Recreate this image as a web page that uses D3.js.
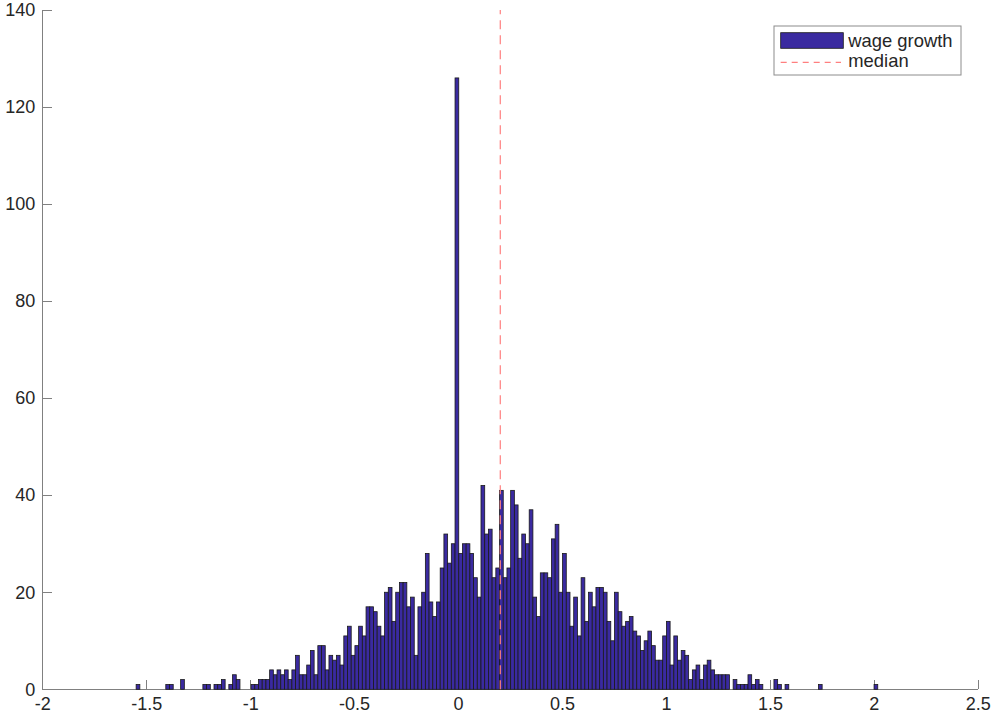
<!DOCTYPE html>
<html>
<head>
<meta charset="utf-8">
<script src="https://d3js.org/d3.v7.min.js"></script>
<style>
    body { margin: 0; background: #fff; }
    .axis text { font-family: "Liberation Sans", Arial, Helvetica, sans-serif; font-size: 18px; fill: #262626; }
    .axis path, .axis line { stroke: #808080; stroke-width: 1; shape-rendering: crispEdges; }
    .legend text { font-family: "Liberation Sans", Arial, Helvetica, sans-serif; font-size: 18.4px; fill: #262626; }
</style>
</head>
<body>
<div id="chart"></div>
<script>
// histogram: 200 equal bins between binLo and binHi
var binLo = -1.5486;
var binHi = 2.0188;
var counts = [
    1, 0, 0, 0, 0, 0, 0, 0, 1, 1,
    0, 0, 2, 0, 0, 0, 0, 0, 1, 1,
    0, 1, 1, 2, 0, 1, 3, 2, 0, 0,
    0, 1, 1, 2, 2, 2, 4, 3, 4, 3,
    4, 2, 4, 7, 3, 3, 5, 8, 3, 9,
    9, 4, 7, 6, 7, 5, 11, 13, 7, 9,
    13, 11, 17, 17, 16, 13, 11, 20, 21, 14,
    20, 22, 22, 17, 19, 7, 17, 20, 28, 18,
    15, 18, 25, 32, 26, 30, 126, 28, 30, 30,
    28, 23, 19, 42, 32, 33, 23, 25, 41, 23,
    25, 41, 38, 27, 32, 30, 37, 19, 15, 24,
    24, 23, 31, 34, 20, 28, 20, 13, 19, 11,
    23, 14, 20, 17, 21, 21, 20, 14, 10, 20,
    16, 13, 14, 15, 12, 11, 8, 10, 12, 9,
    6, 6, 11, 14, 5, 11, 6, 8, 7, 2,
    4, 5, 2, 5, 6, 4, 3, 3, 3, 3,
    0, 2, 1, 1, 1, 3, 1, 2, 1, 0,
    0, 0, 2, 1, 0, 1, 0, 0, 0, 0,
    0, 0, 0, 0, 1, 0, 0, 0, 0, 0,
    0, 0, 0, 0, 0, 0, 0, 0, 0, 1
];
var medianValue = 0.203;

var xTicks = [-2, -1.5, -1, -0.5, 0, 0.5, 1, 1.5, 2, 2.5];
var yTicks = [0, 20, 40, 60, 80, 100, 120, 140];
var legendLabels = ["wage growth", "median"];

var margin = { top: 10, right: 17.2, bottom: 28.7, left: 42.3 };
var width = 995 - margin.left - margin.right;
var height = 718 - margin.top - margin.bottom;

var svg = d3.select("#chart").append("svg")
    .attr("width", 995)
    .attr("height", 718)
    .append("g")
    .attr("transform", "translate(" + margin.left + "," + margin.top + ")");

var x = d3.scaleLinear().domain([-2, 2.5]).range([0, width]);
var y = d3.scaleLinear().domain([0, 140]).range([height, 0]);

var binWidth = (binHi - binLo) / counts.length;
var bins = counts.map(function(c, i) {
    return { x0: binLo + i * binWidth, x1: binLo + (i + 1) * binWidth, count: c };
});

// axes (ticks point inward like matlab)
svg.append("g")
    .attr("class", "x-axis axis")
    .attr("transform", "translate(0," + height + ")")
    .call(d3.axisBottom(x)
        .tickValues(xTicks)
        .tickFormat(function(d) { return String(d); })
        .tickSizeInner(-9)
        .tickSizeOuter(0)
        .tickPadding(8));

svg.append("g")
    .attr("class", "y-axis axis")
    .call(d3.axisLeft(y)
        .tickValues(yTicks)
        .tickFormat(function(d) { return String(d); })
        .tickSizeInner(-10)
        .tickSizeOuter(0)
        .tickPadding(7));

// bars
svg.selectAll(".bar")
    .data(bins.filter(function(d) { return d.count > 0; }))
    .enter()
    .append("rect")
    .attr("class", "bar")
    .attr("x", function(d) { return x(d.x0); })
    .attr("width", function(d) { return x(d.x1) - x(d.x0); })
    .attr("y", function(d) { return y(d.count); })
    .attr("height", function(d) { return y(0) - y(d.count); })
    .attr("fill", "#3a2aa0")
    .attr("stroke", "#1a1a1a")
    .attr("stroke-width", 0.8);

// median line
svg.append("line")
    .attr("x1", x(medianValue))
    .attr("x2", x(medianValue))
    .attr("y1", y(0))
    .attr("y2", y(140))
    .attr("stroke", "#ff7f7f")
    .attr("stroke-width", 1.2)
    .attr("stroke-dasharray", "9,6");

// legend
var legend = svg.append("g")
    .attr("class", "legend")
    .attr("transform", "translate(" + (774 - margin.left) + "," + (26 - margin.top) + ")");

legend.append("rect")
    .attr("width", 187)
    .attr("height", 49)
    .attr("fill", "#fff")
    .attr("stroke", "#8c8c8c")
    .attr("stroke-width", 1);

legend.append("rect")
    .attr("x", 6.7)
    .attr("y", 6.7)
    .attr("width", 62.6)
    .attr("height", 15.6)
    .attr("fill", "#3a2aa0")
    .attr("stroke", "#1a1a1a")
    .attr("stroke-width", 0.8);

legend.append("line")
    .attr("x1", 6.7)
    .attr("x2", 67)
    .attr("y1", 36.3)
    .attr("y2", 36.3)
    .attr("stroke", "#ff7f7f")
    .attr("stroke-width", 1.2)
    .attr("stroke-dasharray", "6,5");

legend.selectAll(".legend-label")
    .data(legendLabels)
    .enter()
    .append("text")
    .attr("class", "legend-label")
    .attr("x", 74.3)
    .attr("y", function(d, i) { return 20.7 + i * 20; })
    .text(function(d) { return d; });
</script>
</body>
</html>
